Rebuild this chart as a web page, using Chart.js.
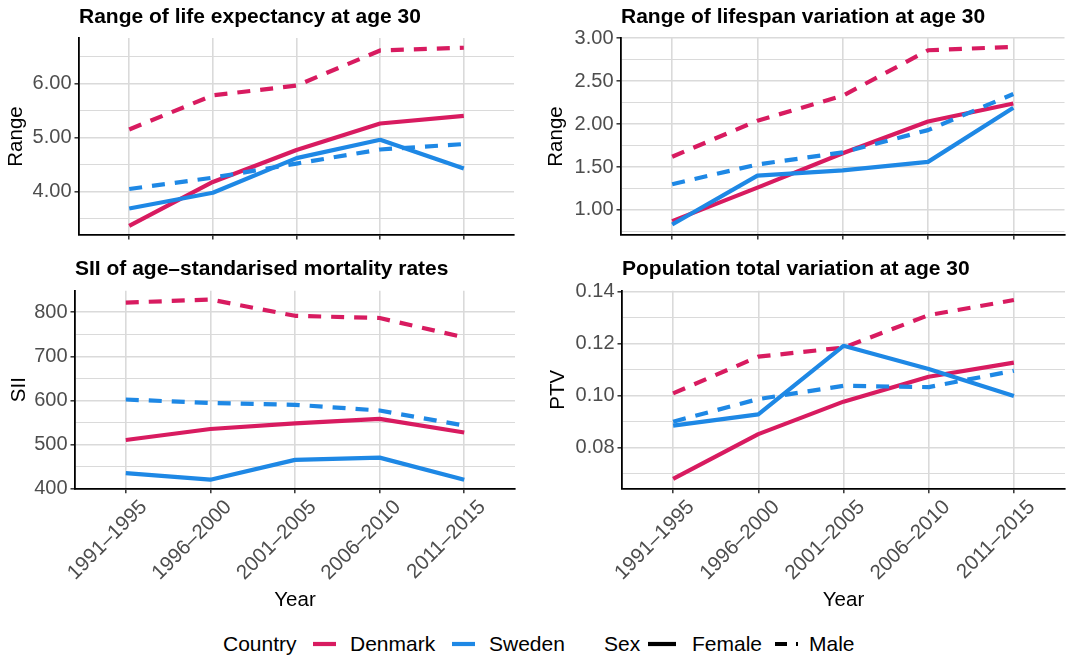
<!DOCTYPE html>
<html>
<head>
<meta charset="utf-8">
<script src="https://cdn.jsdelivr.net/npm/chart.js@4.4.1/dist/chart.umd.min.js"></script>
<style>
  html, body { margin: 0; padding: 0; background: #ffffff; }
  body { width: 1068px; height: 659px; position: relative; overflow: hidden;
         font-family: "Liberation Sans", Arial, sans-serif; }
  canvas.panel { position: absolute; }
  .lg { position: absolute; top: 632px; font-size: 21px; line-height: 24px; color: #000; white-space: nowrap; }
  #keys { position: absolute; left: 0; top: 630px; }
</style>
</head>
<body>
<canvas id="pLE"  class="panel" width="534" height="250" style="left:0;top:0"></canvas>
<canvas id="pLV"  class="panel" width="534" height="250" style="left:534px;top:0"></canvas>
<canvas id="pSII" class="panel" width="534" height="370" style="left:0;top:250px"></canvas>
<canvas id="pPTV" class="panel" width="534" height="370" style="left:534px;top:250px"></canvas>

<div class="lg" style="left:223px">Country</div>
<div class="lg" style="left:350px">Denmark</div>
<div class="lg" style="left:489px">Sweden</div>
<div class="lg" style="left:604px">Sex</div>
<div class="lg" style="left:692px">Female</div>
<div class="lg" style="left:809px">Male</div>
<svg id="keys" width="1068" height="28" xmlns="http://www.w3.org/2000/svg">
  <line x1="313" y1="14" x2="336" y2="14" stroke="#D81B60" stroke-width="4.2"/>
  <line x1="452" y1="14" x2="475" y2="14" stroke="#1E88E5" stroke-width="4.2"/>
  <line x1="648" y1="14" x2="676" y2="14" stroke="#000000" stroke-width="4.2"/>
  <line x1="775" y1="14" x2="798" y2="14" stroke="#000000" stroke-width="4.2" stroke-dasharray="12 9"/>
</svg>

<script>
// Five-year periods on the x axis
const periods = ['1991–1995', '1996–2000', '2001–2005', '2006–2010', '2011–2015'];

// Range of life expectancy at age 30
const leDenmarkFemale = [3.37, 4.18, 4.77, 5.26, 5.40];
const leDenmarkMale   = [5.15, 5.78, 5.96, 6.61, 6.66];
const leSwedenFemale  = [3.69, 3.98, 4.62, 4.96, 4.43];
const leSwedenMale    = [4.05, 4.26, 4.52, 4.78, 4.88];
const leMajorTicks = [4, 5, 6];
const leMinorTicks = [3.5, 4.5, 5.5, 6.5];

// Range of lifespan variation at age 30
const lvDenmarkFemale = [0.87, 1.26, 1.66, 2.03, 2.24];
const lvDenmarkMale   = [1.62, 2.04, 2.33, 2.86, 2.90];
const lvSwedenFemale  = [0.83, 1.40, 1.46, 1.56, 2.19];
const lvSwedenMale    = [1.30, 1.53, 1.67, 1.93, 2.35];
const lvMajorTicks = [1, 1.5, 2, 2.5, 3];
const lvMinorTicks = [0.75, 1.25, 1.75, 2.25, 2.75];

// SII of age-standardised mortality rates
const siiDenmarkFemale = [510, 535, 548, 558, 527];
const siiDenmarkMale   = [822, 829, 792, 787, 743];
const siiSwedenFemale  = [435, 420, 465, 470, 420];
const siiSwedenMale    = [602, 594, 590, 577, 543];
const siiMajorTicks = [400, 500, 600, 700, 800];
const siiMinorTicks = [450, 550, 650, 750];

// Population total variation at age 30
const ptvDenmarkFemale = [0.0680, 0.0852, 0.0977, 0.1073, 0.1127];
const ptvDenmarkMale   = [0.1009, 0.1150, 0.1185, 0.1310, 0.1368];
const ptvSwedenFemale  = [0.0885, 0.0928, 0.1192, 0.1103, 0.0999];
const ptvSwedenMale    = [0.0900, 0.0987, 0.1038, 0.1033, 0.1096];
const ptvMajorTicks = [0.08, 0.10, 0.12, 0.14];
const ptvMinorTicks = [0.07, 0.09, 0.11, 0.13];

const DENMARK = '#D81B60';
const SWEDEN  = '#1E88E5';
const GRID    = '#DADADA';
const FONT    = "'Liberation Sans', Arial, sans-serif";

Chart.defaults.font.family = FONT;
Chart.defaults.animation = false;

function line(values, color, male, order) {
  return {
    data: values.map((v, i) => ({ x: i, y: v })),
    borderColor: color,
    borderWidth: 4.2,
    borderDash: male ? [13, 10] : [],
    borderCapStyle: 'butt',
    borderJoinStyle: 'round',
    pointRadius: 0,
    tension: 0,
    fill: false,
    order: order
  };
}

function panel(id, p) {
  const isMajor = v => p.major.some(m => Math.abs(m - v) < 1e-9);
  const allTicks = p.major.concat(p.minor).sort((a, b) => a - b);
  new Chart(document.getElementById(id), {
    type: 'line',
    data: {
      datasets: [
        line(p.dkF, DENMARK, false, 3),
        line(p.dkM, DENMARK, true, 2),
        line(p.seF, SWEDEN, false, 1),
        line(p.seM, SWEDEN, true, 0)
      ]
    },
    options: {
      responsive: false,
      animation: false,
      layout: { padding: { left: 0, right: p.padRight, top: 0, bottom: 0 } },
      plugins: {
        legend: { display: false },
        tooltip: { enabled: false },
        title: {
          display: true, text: p.title, align: 'start', fullSize: false,
          color: '#000', font: { size: 21, weight: 'bold', lineHeight: 1.2 },
          padding: { top: p.titleTop, bottom: p.titleBottom }
        }
      },
      scales: {
        x: {
          type: 'linear', min: -0.6, max: 4.6,
          afterBuildTicks: s => { s.ticks = periods.map((_, i) => ({ value: i })); },
          afterFit: s => { s.height = p.xHeight; },
          ticks: {
            display: p.showX, autoSkip: false, minRotation: 45, maxRotation: 45,
            callback: v => periods[v], color: '#4D4D4D',
            font: { size: 20.5 }, padding: 2, labelOffset: 18
          },
          grid: { color: GRID, lineWidth: 1.6, tickColor: '#333333', tickLength: 4.5, tickWidth: 1.5 },
          border: { display: true, color: '#000', width: 1.8 },
          title: {
            display: p.showX, text: 'Year', color: '#000',
            font: { size: 20.5, lineHeight: 1.2 }, padding: { top: 0, bottom: 7.5 }
          }
        },
        y: {
          type: 'linear', min: p.yMin, max: p.yMax,
          afterBuildTicks: s => { s.ticks = allTicks.map(v => ({ value: v })); },
          afterFit: s => { s.width = p.yWidth; },
          ticks: {
            autoSkip: false, color: '#4D4D4D', font: { size: 20 }, padding: 3,
            callback: v => isMajor(v) ? p.fmt(v) : ''
          },
          grid: {
            color: GRID,
            lineWidth: c => isMajor(c.tick.value) ? 1.6 : 1.1,
            tickColor: c => isMajor(c.tick.value) ? '#333333' : 'rgba(0,0,0,0)',
            tickLength: 4.5, tickWidth: 1.5
          },
          border: { display: true, color: '#000', width: 1.8 },
          title: {
            display: true, text: p.yTitle, color: '#000',
            font: { size: 20.5, lineHeight: 1.2 }, padding: { top: p.yTitlePad, bottom: 0 }
          }
        }
      }
    }
  });
}

panel('pLE', {
  title: 'Range of life expectancy at age 30', yTitle: 'Range',
  dkF: leDenmarkFemale, dkM: leDenmarkMale, seF: leSwedenFemale, seM: leSwedenMale,
  major: leMajorTicks, minor: leMinorTicks, yMin: 3.20, yMax: 6.84, fmt: v => v.toFixed(2),
  yWidth: 79, padRight: 20, titleTop: 4.7, titleBottom: 8.1, xHeight: 13, showX: false, yTitlePad: 4
});
panel('pLV', {
  title: 'Range of lifespan variation at age 30', yTitle: 'Range',
  dkF: lvDenmarkFemale, dkM: lvDenmarkMale, seF: lvSwedenFemale, seM: lvSwedenMale,
  major: lvMajorTicks, minor: lvMinorTicks, yMin: 0.708, yMax: 3.003, fmt: v => v.toFixed(2),
  yWidth: 87, padRight: 3.5, titleTop: 4.7, titleBottom: 8.1, xHeight: 13, showX: false, yTitlePad: 10
});
panel('pSII', {
  title: 'SII of age\u2013standarised mortality rates', yTitle: 'SII',
  dkF: siiDenmarkFemale, dkM: siiDenmarkMale, seF: siiSwedenFemale, seM: siiSwedenMale,
  major: siiMajorTicks, minor: siiMinorTicks, yMin: 399.5, yMax: 849, fmt: v => String(v),
  yWidth: 75, padRight: 19, titleTop: 6.2, titleBottom: 9.3, xHeight: 131.3, showX: true, yTitlePad: 7
});
panel('pPTV', {
  title: 'Population total variation at age 30', yTitle: 'PTV',
  dkF: ptvDenmarkFemale, dkM: ptvDenmarkMale, seF: ptvSwedenFemale, seM: ptvSwedenMale,
  major: ptvMajorTicks, minor: ptvMinorTicks, yMin: 0.0642, yMax: 0.1404, fmt: v => v.toFixed(2),
  yWidth: 88, padRight: 3, titleTop: 6.2, titleBottom: 9.3, xHeight: 131.3, showX: true, yTitlePad: 12
});
</script>
</body>
</html>
